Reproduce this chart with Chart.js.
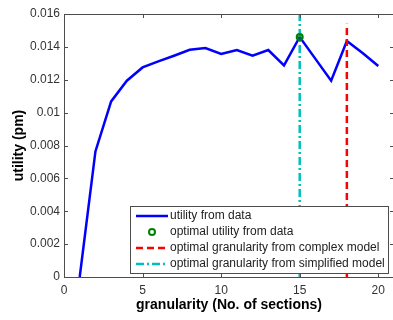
<!DOCTYPE html>
<html>
<head>
<meta charset="utf-8">
<script src="https://cdn.jsdelivr.net/npm/chart.js@4.4.1/dist/chart.umd.min.js"></script>
<style>
  html, body { margin: 0; padding: 0; background: #fff; overflow: hidden; }
  #wrap { width: 393px; height: 320px; overflow: hidden; }
</style>
</head>
<body>
<div id="wrap"><canvas id="chart" width="400" height="320"></canvas></div>
<script>
// data
const granularity = [1, 2, 3, 4, 5, 6, 7, 8, 9, 10, 11, 12, 13, 14, 15, 16, 17, 18, 19, 20];
const utility = [0, 0.00764, 0.01068, 0.01194, 0.01275, 0.01312, 0.01346, 0.01382, 0.01393, 0.01357,
                 0.01381, 0.01346, 0.01381, 0.01287, 0.0146, 0.01327, 0.01194, 0.01436, 0.01363, 0.01284];
const optimalX = [15];
const optimalY = [0.0146];
const complexX = [18, 18];
const complexY = [0, 0.0154];
const simplifiedX = [15, 15];
const simplifiedY = [0, 0.016];

const xTicks = [0, 5, 10, 15, 20];
const xTickLabels = ['0', '5', '10', '15', '20'];
const yTicks = [0, 0.002, 0.004, 0.006, 0.008, 0.01, 0.012, 0.014, 0.016];
const yTickLabels = ['0', '0.002', '0.004', '0.006', '0.008', '0.01', '0.012', '0.014', '0.016'];
const legendLabels = [
  'utility from data',
  'optimal utility from data',
  'optimal granularity from complex model',
  'optimal granularity from simplified model'
];

const FONT = '"Liberation Sans", Arial, sans-serif';
const toPoints = (xs, ys) => xs.map((x, i) => ({ x: x, y: ys[i] }));

// MATLAB-ish box with inward ticks
const framePlugin = {
  id: 'frame',
  afterDatasetsDraw(chart) {
    const ctx = chart.ctx;
    const a = chart.chartArea;
    const xs = chart.scales.x, ys = chart.scales.y;
    const tl = 4;
    ctx.save();
    ctx.strokeStyle = '#4d4d4d';
    ctx.lineWidth = 1;
    ctx.beginPath();
    ctx.rect(Math.round(a.left) + 0.5, Math.round(a.top) + 0.5,
             Math.round(a.right - a.left), Math.round(a.bottom - a.top));
    xTicks.forEach(v => {
      const px = Math.round(xs.getPixelForValue(v)) + 0.5;
      ctx.moveTo(px, a.bottom); ctx.lineTo(px, a.bottom - tl);
      ctx.moveTo(px, a.top); ctx.lineTo(px, a.top + tl);
    });
    yTicks.forEach(v => {
      const py = Math.round(ys.getPixelForValue(v)) + 0.5;
      ctx.moveTo(a.left, py); ctx.lineTo(a.left + tl, py);
      ctx.moveTo(a.right, py); ctx.lineTo(a.right - tl, py);
    });
    ctx.stroke();
    ctx.restore();
  }
};

// legend box in the lower right corner
const legendPlugin = {
  id: 'boxLegend',
  afterDraw(chart) {
    const ctx = chart.ctx;
    const a = chart.chartArea;
    const ds = chart.data.datasets;
    ctx.save();
    ctx.font = '12px ' + FONT;
    const textW = Math.max(...legendLabels.map(t => ctx.measureText(t).width));
    const rowH = 16;
    const w = 40 + textW + 3;
    const h = rowH * legendLabels.length + 3;
    const right = Math.round(a.right) - 6;
    const bottom = Math.round(a.bottom) - 4;
    const left = Math.round(right - w), top = bottom - h;
    ctx.fillStyle = '#fff';
    ctx.fillRect(left, top, right - left, h);
    ctx.strokeStyle = '#4d4d4d';
    ctx.lineWidth = 1;
    ctx.strokeRect(left + 0.5, top + 0.5, right - left, h);

    legendLabels.forEach((label, i) => {
      const d = ds[i];
      const cy = top + 10 + i * rowH;
      if (d.showLine === false) {
        ctx.beginPath();
        ctx.arc(left + 22, cy, 3, 0, Math.PI * 2);
        ctx.strokeStyle = d.pointBorderColor;
        ctx.lineWidth = 2;
        ctx.stroke();
      } else {
        ctx.beginPath();
        ctx.setLineDash(d.borderDash || []);
        ctx.strokeStyle = d.borderColor;
        ctx.lineWidth = d.borderWidth;
        ctx.moveTo(left + 6, cy);
        ctx.lineTo(left + 38, cy);
        ctx.stroke();
        ctx.setLineDash([]);
      }
      ctx.fillStyle = '#222';
      ctx.textAlign = 'left';
      ctx.textBaseline = 'middle';
      ctx.fillText(label, left + 40, cy);
    });
    ctx.restore();
  }
};

new Chart(document.getElementById('chart'), {
  type: 'line',
  data: {
    datasets: [
      {
        data: toPoints(granularity, utility),
        borderColor: '#0000ff',
        borderWidth: 2.5,
        pointRadius: 0,
        order: 3
      },
      {
        data: toPoints(optimalX, optimalY),
        showLine: false,
        pointRadius: 3,
        pointBorderWidth: 2,
        pointBorderColor: '#008000',
        pointBackgroundColor: 'rgba(0,128,0,0.5)',
        order: 0
      },
      {
        data: toPoints(complexX, complexY),
        borderColor: '#ff0000',
        borderWidth: 2.5,
        borderDash: [7, 4],
        pointRadius: 0,
        order: 2
      },
      {
        data: toPoints(simplifiedX, simplifiedY),
        borderColor: '#00bfbf',
        borderWidth: 2.5,
        borderDash: [8, 3, 2, 3],
        pointRadius: 0,
        order: 1
      }
    ]
  },
  options: {
    responsive: false,
    animation: false,
    layout: { padding: { top: 14, right: 4, left: 0, bottom: 0 } },
    plugins: { legend: { display: false }, tooltip: { enabled: false } },
    scales: {
      x: {
        type: 'linear',
        min: 0,
        max: 21,
        afterBuildTicks: s => { s.ticks = xTicks.map(v => ({ value: v })); },
        afterFit: s => { s.height = 43; },
        grid: { display: false, drawTicks: false },
        border: { display: false },
        ticks: {
          padding: 6,
          color: '#333',
          font: { family: FONT, size: 12 },
          maxRotation: 0,
          callback: (v, i) => xTickLabels[i]
        },
        title: {
          display: true,
          text: 'granularity (No. of sections)',
          color: '#000',
          font: { family: FONT, size: 14, weight: 'bold' },
          padding: { top: 0, bottom: 6 }
        }
      },
      y: {
        min: 0,
        max: 0.016,
        afterBuildTicks: s => { s.ticks = yTicks.map(v => ({ value: v })); },
        afterFit: s => { s.width = 64; },
        grid: { display: false, drawTicks: false },
        border: { display: false },
        ticks: {
          padding: 4,
          color: '#333',
          font: { family: FONT, size: 12 },
          callback: (v, i) => yTickLabels[i]
        },
        title: {
          display: true,
          text: 'utility (pm)',
          color: '#000',
          font: { family: FONT, size: 14, weight: 'bold' },
          padding: { top: 11, bottom: 0 }
        }
      }
    }
  },
  plugins: [framePlugin, legendPlugin]
});
</script>
</body>
</html>
